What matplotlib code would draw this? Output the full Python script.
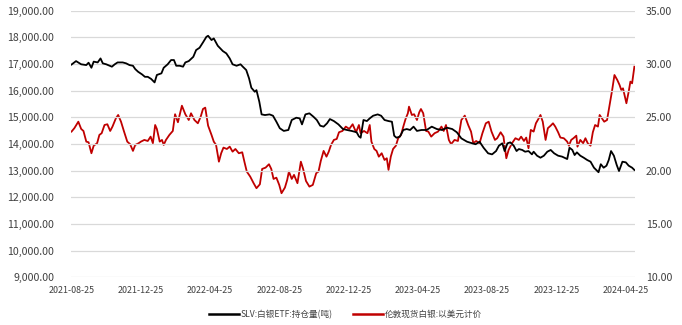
import numpy as np
import pandas as pd
import matplotlib
matplotlib.use("Agg")
from matplotlib import pyplot as plt
from matplotlib.ticker import FuncFormatter, MultipleLocator

plt.rcParams['font.family'] = ['Noto Sans CJK SC', 'DejaVu Sans']

# SLV holdings, tonnes (left axis)
slv_dates = [
    "2021-08-25", "2021-09-02", "2021-09-11", "2021-09-20", "2021-09-24", "2021-09-29",
    "2021-10-03", "2021-10-10", "2021-10-15", "2021-10-19", "2021-10-25", "2021-10-31",
    "2021-11-04", "2021-11-09", "2021-11-14", "2021-11-23", "2021-11-29", "2021-12-05",
    "2021-12-11", "2021-12-15", "2021-12-20", "2021-12-27", "2022-01-01", "2022-01-06",
    "2022-01-12", "2022-01-18", "2022-01-22", "2022-01-30", "2022-02-03", "2022-02-10",
    "2022-02-16", "2022-02-21", "2022-02-25", "2022-03-03", "2022-03-09", "2022-03-13",
    "2022-03-19", "2022-03-27", "2022-04-01", "2022-04-07", "2022-04-13", "2022-04-19",
    "2022-04-22", "2022-04-28", "2022-05-02", "2022-05-09", "2022-05-18", "2022-05-24",
    "2022-05-30", "2022-06-04", "2022-06-11", "2022-06-18", "2022-06-22", "2022-06-28",
    "2022-07-03", "2022-07-07", "2022-07-13", "2022-07-16", "2022-07-21", "2022-07-25",
    "2022-07-31", "2022-08-08", "2022-08-14", "2022-08-20", "2022-08-26", "2022-09-02",
    "2022-09-10", "2022-09-16", "2022-09-24", "2022-09-30", "2022-10-04", "2022-10-10",
    "2022-10-17", "2022-10-24", "2022-10-30", "2022-11-05", "2022-11-11", "2022-11-17",
    "2022-11-22", "2022-11-29", "2022-12-07", "2022-12-15", "2022-12-22", "2022-12-30",
    "2023-01-08", "2023-01-12", "2023-01-15", "2023-01-20", "2023-01-26", "2023-01-31",
    "2023-02-06", "2023-02-14", "2023-02-20", "2023-02-26", "2023-03-05", "2023-03-11",
    "2023-03-15", "2023-03-19", "2023-03-25", "2023-03-31", "2023-04-06", "2023-04-12",
    "2023-04-18", "2023-04-24", "2023-05-02", "2023-05-11", "2023-05-20", "2023-05-29",
    "2023-06-07", "2023-06-16", "2023-06-25", "2023-07-03", "2023-07-11", "2023-07-21",
    "2023-07-30", "2023-08-05", "2023-08-12", "2023-08-19", "2023-08-27", "2023-09-03",
    "2023-09-10", "2023-09-15", "2023-09-21", "2023-09-25", "2023-09-30", "2023-10-05",
    "2023-10-11", "2023-10-16", "2023-10-20", "2023-10-26", "2023-10-31", "2023-11-06",
    "2023-11-12", "2023-11-15", "2023-11-21", "2023-11-27", "2023-12-03", "2023-12-09",
    "2023-12-15", "2023-12-21", "2023-12-28", "2024-01-04", "2024-01-13", "2024-01-17",
    "2024-01-22", "2024-01-26", "2024-01-30", "2024-02-05", "2024-02-11", "2024-02-17",
    "2024-02-23", "2024-02-29", "2024-03-04", "2024-03-08", "2024-03-12", "2024-03-17",
    "2024-03-22", "2024-03-26", "2024-03-30", "2024-04-04", "2024-04-09", "2024-04-13",
    "2024-04-19", "2024-04-25", "2024-04-30", "2024-05-06", "2024-05-10",
]
slv_tonnes = [
    16980, 17110, 16990, 16960, 17050, 16860,
    17090, 17060, 17210, 17025, 16990, 16935,
    16900, 16990, 17060, 17060, 17025, 16960,
    16935, 16810, 16710, 16610, 16520, 16520,
    16440, 16310, 16590, 16650, 16860, 16990,
    17150, 17150, 16935, 16935, 16900, 17060,
    17110, 17270, 17525, 17610, 17810, 18020,
    18060, 17900, 17960, 17685, 17485, 17400,
    17210, 16990, 16935, 16990, 16900, 16775,
    16460, 16110, 15960, 16020, 15585, 15110,
    15085, 15110, 15060, 14835, 14590, 14490,
    14525, 14900, 14985, 14960, 14735, 15110,
    15150, 15025, 14900, 14685, 14650, 14775,
    14935, 14860, 14735, 14560, 14525, 14490,
    14440, 14285, 14235, 14900, 14860, 14960,
    15060, 15110, 15060, 14900, 14860, 14835,
    14310, 14235, 14275, 14525, 14560, 14525,
    14650, 14490, 14525, 14525, 14650, 14560,
    14525, 14610, 14560, 14440, 14210, 14085,
    14025, 13990, 14085, 13860, 13650, 13610,
    13735, 13935, 14025, 13735, 14025, 14060,
    13935, 13735, 13810, 13775, 13710, 13735,
    13610, 13710, 13560, 13485, 13560, 13710,
    13775, 13650, 13560, 13525, 13435, 13860,
    13775, 13585, 13685, 13560, 13485, 13400,
    13335, 13110, 13025, 12940, 13240, 13110,
    13185, 13400, 13735, 13560, 13210, 12985,
    13335, 13310, 13185, 13110, 13025,
]

# London spot silver, USD/oz (right axis)
silver_dates = [
    "2021-08-25", "2021-08-30", "2021-09-06", "2021-09-11", "2021-09-15", "2021-09-20",
    "2021-09-24", "2021-09-29", "2021-10-03", "2021-10-09", "2021-10-13", "2021-10-17",
    "2021-10-22", "2021-10-27", "2021-11-01", "2021-11-05", "2021-11-11", "2021-11-15",
    "2021-11-20", "2021-11-25", "2021-12-01", "2021-12-06", "2021-12-11", "2021-12-15",
    "2021-12-21", "2021-12-25", "2021-12-31", "2022-01-06", "2022-01-11", "2022-01-15",
    "2022-01-19", "2022-01-22", "2022-01-27", "2022-01-31", "2022-02-03", "2022-02-07",
    "2022-02-13", "2022-02-19", "2022-02-23", "2022-02-28", "2022-03-07", "2022-03-13",
    "2022-03-19", "2022-03-23", "2022-03-29", "2022-04-04", "2022-04-09", "2022-04-13",
    "2022-04-17", "2022-04-22", "2022-04-28", "2022-05-02", "2022-05-06", "2022-05-11",
    "2022-05-15", "2022-05-19", "2022-05-25", "2022-05-30", "2022-06-04", "2022-06-09",
    "2022-06-15", "2022-06-21", "2022-06-25", "2022-06-29", "2022-07-05", "2022-07-11",
    "2022-07-16", "2022-07-22", "2022-07-26", "2022-08-01", "2022-08-07", "2022-08-11",
    "2022-08-15", "2022-08-20", "2022-08-25", "2022-08-29", "2022-09-04", "2022-09-08",
    "2022-09-11", "2022-09-16", "2022-09-20", "2022-09-26", "2022-10-02", "2022-10-06",
    "2022-10-11", "2022-10-17", "2022-10-23", "2022-10-29", "2022-11-02", "2022-11-06",
    "2022-11-11", "2022-11-16", "2022-11-20", "2022-11-24", "2022-11-29", "2022-12-04",
    "2022-12-08", "2022-12-14", "2022-12-20", "2022-12-26", "2023-01-01", "2023-01-07",
    "2023-01-12", "2023-01-15", "2023-01-21", "2023-01-27", "2023-01-31", "2023-02-03",
    "2023-02-08", "2023-02-12", "2023-02-16", "2023-02-21", "2023-02-26", "2023-03-02",
    "2023-03-05", "2023-03-09", "2023-03-13", "2023-03-18", "2023-03-22", "2023-03-27",
    "2023-03-31", "2023-04-04", "2023-04-08", "2023-04-10", "2023-04-15", "2023-04-19",
    "2023-04-24", "2023-04-28", "2023-05-01", "2023-05-05", "2023-05-10", "2023-05-14",
    "2023-05-19", "2023-05-25", "2023-05-31", "2023-06-06", "2023-06-10", "2023-06-14",
    "2023-06-19", "2023-06-23", "2023-06-29", "2023-07-05", "2023-07-11", "2023-07-17",
    "2023-07-23", "2023-07-28", "2023-08-01", "2023-08-06", "2023-08-12", "2023-08-17",
    "2023-08-23", "2023-08-28", "2023-09-02", "2023-09-08", "2023-09-12", "2023-09-18",
    "2023-09-23", "2023-09-28", "2023-10-02", "2023-10-08", "2023-10-14", "2023-10-20",
    "2023-10-24", "2023-10-29", "2023-11-02", "2023-11-06", "2023-11-10", "2023-11-15",
    "2023-11-19", "2023-11-24", "2023-11-27", "2023-12-01", "2023-12-06", "2023-12-10",
    "2023-12-15", "2023-12-19", "2023-12-23", "2023-12-28", "2024-01-01", "2024-01-07",
    "2024-01-13", "2024-01-16", "2024-01-20", "2024-01-24", "2024-01-29", "2024-01-31",
    "2024-02-05", "2024-02-10", "2024-02-14", "2024-02-18", "2024-02-23", "2024-02-27",
    "2024-03-02", "2024-03-07", "2024-03-10", "2024-03-14", "2024-03-18", "2024-03-23",
    "2024-03-28", "2024-04-01", "2024-04-05", "2024-04-10", "2024-04-14", "2024-04-17",
    "2024-04-20", "2024-04-26", "2024-04-30", "2024-05-03", "2024-05-06", "2024-05-10",
]
silver_usd = [
    23.66, 23.98, 24.59, 23.91, 23.72, 22.72,
    22.66, 21.63, 22.34, 22.57, 23.35, 23.51,
    24.28, 24.35, 23.72, 24.13, 24.91, 25.22,
    24.59, 23.72, 22.72, 22.48, 21.85, 22.41,
    22.57, 22.72, 22.88, 22.78, 23.19, 22.57,
    24.28, 23.91, 22.72, 22.88, 22.41, 22.88,
    23.35, 23.72, 25.29, 24.54, 26.09, 25.29,
    24.75, 25.38, 24.75, 24.44, 25.06, 25.78,
    25.91, 24.22, 23.35, 22.72, 22.41, 20.84,
    21.63, 22.16, 22.03, 22.25, 21.78, 22.03,
    21.63, 21.72, 20.79, 19.91, 19.44, 18.82,
    18.35, 18.72, 20.16, 20.28, 20.60, 20.16,
    19.22, 19.34, 18.66, 17.88, 18.41, 19.13,
    19.91, 19.22, 19.60, 18.82, 20.84, 20.16,
    19.03, 18.50, 18.66, 19.76, 19.91, 20.91,
    21.85, 21.31, 21.78, 22.41, 22.88, 22.97,
    23.60, 23.72, 24.13, 23.91, 24.35, 23.60,
    24.28, 23.51, 23.72, 23.51, 24.28, 22.72,
    22.03, 21.85, 21.31, 21.63, 21.00, 21.16,
    20.07, 21.31, 22.03, 22.34, 23.04, 23.35,
    24.13, 24.85, 25.38, 26.00, 25.22, 25.29,
    24.75, 25.47, 25.78, 25.38, 23.72, 23.66,
    23.19, 23.51, 23.66, 24.13, 23.72, 24.28,
    22.88, 22.48, 22.88, 22.78, 24.75, 25.16,
    24.28, 23.66, 22.57, 22.78, 22.57, 23.51,
    24.44, 24.59, 23.66, 22.88, 23.04, 23.60,
    23.19, 21.16, 21.94, 22.57, 23.04, 22.88,
    23.19, 22.78, 23.10, 22.10, 23.82, 23.66,
    24.44, 24.91, 25.22, 24.59, 22.88, 23.98,
    24.22, 24.44, 24.13, 23.60, 23.10, 23.04,
    22.72, 22.34, 22.88, 23.04, 23.28, 22.25,
    22.88, 22.57, 23.04, 22.57, 22.34, 23.60,
    24.28, 24.13, 25.22, 24.91, 24.59, 24.75,
    26.32, 27.57, 28.97, 28.50, 28.03, 27.57,
    27.72, 26.32, 27.41, 28.35, 28.19, 29.75,
]

tick_dates = ["2021-08-25", "2021-12-25", "2022-04-25", "2022-08-25", "2022-12-25",
              "2023-04-25", "2023-08-25", "2023-12-25", "2024-04-25"]

slv_label = "SLV:白银ETF:持仓量(吨)"
silver_label = "伦敦现货白银:以美元计价"

grid_color = "#d9d9d9"
text_color = "#404040"

fig = plt.figure(figsize=(6.82, 3.25), dpi=100)
ax = fig.add_axes([0.104, 0.147, 0.827, 0.820])
ax2 = ax.twinx()

ax.plot(pd.to_datetime(slv_dates), slv_tonnes, color="black", lw=1.3, zorder=3)
ax2.plot(pd.to_datetime(silver_dates), silver_usd, color="#c00000", lw=1.3)

ax.set_zorder(ax2.get_zorder() + 1)
ax.patch.set_visible(False)

ax.set_ylim(9000, 19000)
ax.yaxis.set_major_locator(MultipleLocator(1000))
ax.yaxis.set_major_formatter(FuncFormatter(lambda v, p: f"{v:,.2f}"))
ax2.set_ylim(10, 35)
ax2.yaxis.set_major_locator(MultipleLocator(5))
ax2.yaxis.set_major_formatter(FuncFormatter(lambda v, p: f"{v:.2f}"))

ax.set_xlim(pd.Timestamp("2021-08-24"), pd.Timestamp("2024-05-11"))
ax.set_xticks(pd.to_datetime(tick_dates))
ax.set_xticklabels(tick_dates)

ax.grid(axis="y", color=grid_color, lw=0.9)
ax.set_axisbelow(True)
for a in (ax, ax2):
    for s in a.spines.values():
        s.set_visible(False)
ax.tick_params(axis="y", length=0, pad=12, labelsize=7.6, labelcolor=text_color)
ax.tick_params(axis="x", length=0, pad=6, labelsize=6.4, labelcolor=text_color)
ax2.tick_params(axis="y", length=0, pad=8, labelsize=7.6, labelcolor=text_color)

handles = [plt.Line2D([], [], color="black", lw=1.8),
           plt.Line2D([], [], color="#c00000", lw=1.8)]
fig.legend(handles, [slv_label, silver_label], loc="center", bbox_to_anchor=(0.507, 0.032),
           ncol=2, frameon=False, fontsize=6.2, handlelength=3.4, handletextpad=0.25,
           columnspacing=2.4, labelcolor=text_color)

fig.savefig("out.png", dpi=100)
